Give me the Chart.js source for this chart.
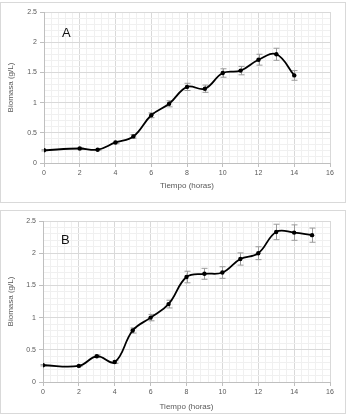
<!DOCTYPE html>
<html>
<head>
<meta charset="utf-8">
<script src="https://cdn.jsdelivr.net/npm/chart.js@4/dist/chart.umd.min.js"></script>
<style>
  html, body { margin: 0; padding: 0; background: #fff; }
  body { width: 346px; height: 414px; position: relative; overflow: hidden; }
  .box { position: absolute; left: 0; width: 344px; border: 1px solid #d9d9d9; background: #fff; }
  #boxA { top: 2px; height: 199px; }
  #boxB { top: 210px; height: 202px; }
  .box canvas { display: block; }
</style>
</head>
<body>
<div class="box" id="boxA"><canvas id="chartA" width="344" height="199"></canvas></div>
<div class="box" id="boxB"><canvas id="chartB" width="344" height="202"></canvas></div>
<script>
// ---- Data ----
const timeA = [0, 2, 3, 4, 5, 6, 7, 8, 9, 10, 11, 12, 13, 14];
const biomasaA = [0.21, 0.24, 0.22, 0.34, 0.44, 0.79, 0.98, 1.26, 1.23, 1.49, 1.53, 1.71, 1.80, 1.45];
const errorA = [0.01, 0.01, 0.01, 0.02, 0.03, 0.04, 0.05, 0.06, 0.06, 0.07, 0.07, 0.09, 0.10, 0.08];

const timeB = [0, 2, 3, 4, 5, 6, 7, 8, 9, 10, 11, 12, 13, 14, 15];
const biomasaB = [0.26, 0.25, 0.40, 0.31, 0.80, 1.00, 1.21, 1.63, 1.68, 1.70, 1.91, 2.00, 2.33, 2.32, 2.28];
const errorB = [0.01, 0.01, 0.02, 0.02, 0.04, 0.05, 0.06, 0.09, 0.085, 0.09, 0.095, 0.10, 0.12, 0.12, 0.11];

const xTickLabels = ['0', '2', '4', '6', '8', '10', '12', '14', '16'];
const yTickLabels = ['0', '0.5', '1', '1.5', '2', '2.5'];

const xTitle = 'Tiempo (horas)';
const yTitle = 'Biomasa (g/L)';

// ---- Helpers ----
function isMultiple(v, step) {
  const r = v / step;
  return Math.abs(r - Math.round(r)) < 1e-6;
}

const errorBarPlugin = {
  id: 'errorBars',
  beforeDatasetsDraw(chart, args, opts) {
    const { ctx, scales: { x, y } } = chart;
    const times = opts.times, vals = opts.values, errs = opts.errors;
    ctx.save();
    ctx.strokeStyle = '#9a9a9a';
    ctx.lineWidth = 1;
    for (let i = 0; i < times.length; i++) {
      const px = Math.round(x.getPixelForValue(times[i])) + 0.5;
      const pTop = y.getPixelForValue(vals[i] + errs[i]);
      const pBot = y.getPixelForValue(vals[i] - errs[i]);
      ctx.beginPath();
      ctx.moveTo(px, pTop); ctx.lineTo(px, pBot);
      ctx.moveTo(px - 3, pTop); ctx.lineTo(px + 3, pTop);
      ctx.moveTo(px - 3, pBot); ctx.lineTo(px + 3, pBot);
      ctx.stroke();
    }
    ctx.restore();
  }
};

const panelLabelPlugin = {
  id: 'panelLabel',
  afterDraw(chart, args, opts) {
    const { ctx, chartArea } = chart;
    ctx.save();
    ctx.fillStyle = '#111';
    ctx.font = '13px "Liberation Sans", Arial, sans-serif';
    ctx.textAlign = 'left';
    ctx.textBaseline = 'alphabetic';
    ctx.fillText(opts.text, chartArea.left + opts.dx, chartArea.top + opts.dy);
    ctx.restore();
  }
};

function makeChart(canvasId, times, vals, errs, label, cfg) {
  const points = times.map((t, i) => ({ x: t, y: vals[i] }));
  return new Chart(document.getElementById(canvasId), {
    type: 'line',
    data: {
      datasets: [{
        data: points,
        borderColor: '#000',
        backgroundColor: '#000',
        borderWidth: 1.8,
        tension: 0.4,
        pointRadius: 2.2,
        pointBackgroundColor: '#000',
        pointBorderColor: '#000',
        pointBorderWidth: 0,
        fill: false
      }]
    },
    plugins: [errorBarPlugin, panelLabelPlugin],
    options: {
      responsive: false,
      animation: false,
      devicePixelRatio: 1,
      layout: { padding: { left: 5, right: cfg.padRight, top: cfg.padTop, bottom: cfg.padBottom } },
      plugins: {
        legend: { display: false },
        tooltip: { enabled: false },
        errorBars: { times: times, values: vals, errors: errs },
        panelLabel: { text: label, dx: 18, dy: cfg.labelDy }
      },
      scales: {
        x: {
          type: 'linear',
          min: 0, max: 16,
          afterFit(scale) { scale.height = cfg.xHeight; },
          ticks: {
            stepSize: 0.4,
            autoSkip: false,
            maxRotation: 0,
            padding: 2,
            color: '#595959',
            font: { family: '"Liberation Sans", Arial, sans-serif', size: 7 },
            callback: (v) => {
              if (!isMultiple(v, 2)) return '';
              const idx = Math.round(v / 2);
              return xTickLabels[idx] !== undefined ? xTickLabels[idx] : '';
            }
          },
          grid: {
            color: (c) => isMultiple(c.tick.value, 2) ? '#d9d9d9' : '#f0f0f0',
            tickColor: (c) => isMultiple(c.tick.value, 2) ? '#bfbfbf' : 'rgba(0,0,0,0)',
            tickLength: 4,
            lineWidth: 1
          },
          border: { color: '#bfbfbf', width: 1 },
          title: {
            display: true,
            text: xTitle,
            color: '#595959',
            padding: 0,
            font: { family: '"Liberation Sans", Arial, sans-serif', size: 8 }
          }
        },
        y: {
          type: 'linear',
          min: 0, max: 2.5,
          afterFit(scale) { scale.width = cfg.yWidth; },
          ticks: {
            stepSize: 0.1,
            autoSkip: false,
            padding: 3,
            color: '#595959',
            font: { family: '"Liberation Sans", Arial, sans-serif', size: 7 },
            callback: (v) => {
              if (!isMultiple(v, 0.5)) return '';
              const idx = Math.round(v / 0.5);
              return yTickLabels[idx] !== undefined ? yTickLabels[idx] : '';
            }
          },
          grid: {
            color: (c) => isMultiple(c.tick.value, 0.5) ? '#d9d9d9' : '#f0f0f0',
            tickColor: (c) => isMultiple(c.tick.value, 0.5) ? '#bfbfbf' : 'rgba(0,0,0,0)',
            tickLength: 4,
            lineWidth: 1
          },
          border: { color: '#bfbfbf', width: 1 },
          title: {
            display: true,
            text: yTitle,
            color: '#595959',
            padding: 0,
            font: { family: '"Liberation Sans", Arial, sans-serif', size: 8 }
          }
        }
      }
    }
  });
}

makeChart('chartA', timeA, biomasaA, errorA, 'A',
  { padRight: 15, padTop: 9, padBottom: 11, xHeight: 28, yWidth: 38, labelDy: 25 });
makeChart('chartB', timeB, biomasaB, errorB, 'B',
  { padRight: 15, padTop: 10, padBottom: 1, xHeight: 30, yWidth: 37, labelDy: 23 });
</script>
</body>
</html>
